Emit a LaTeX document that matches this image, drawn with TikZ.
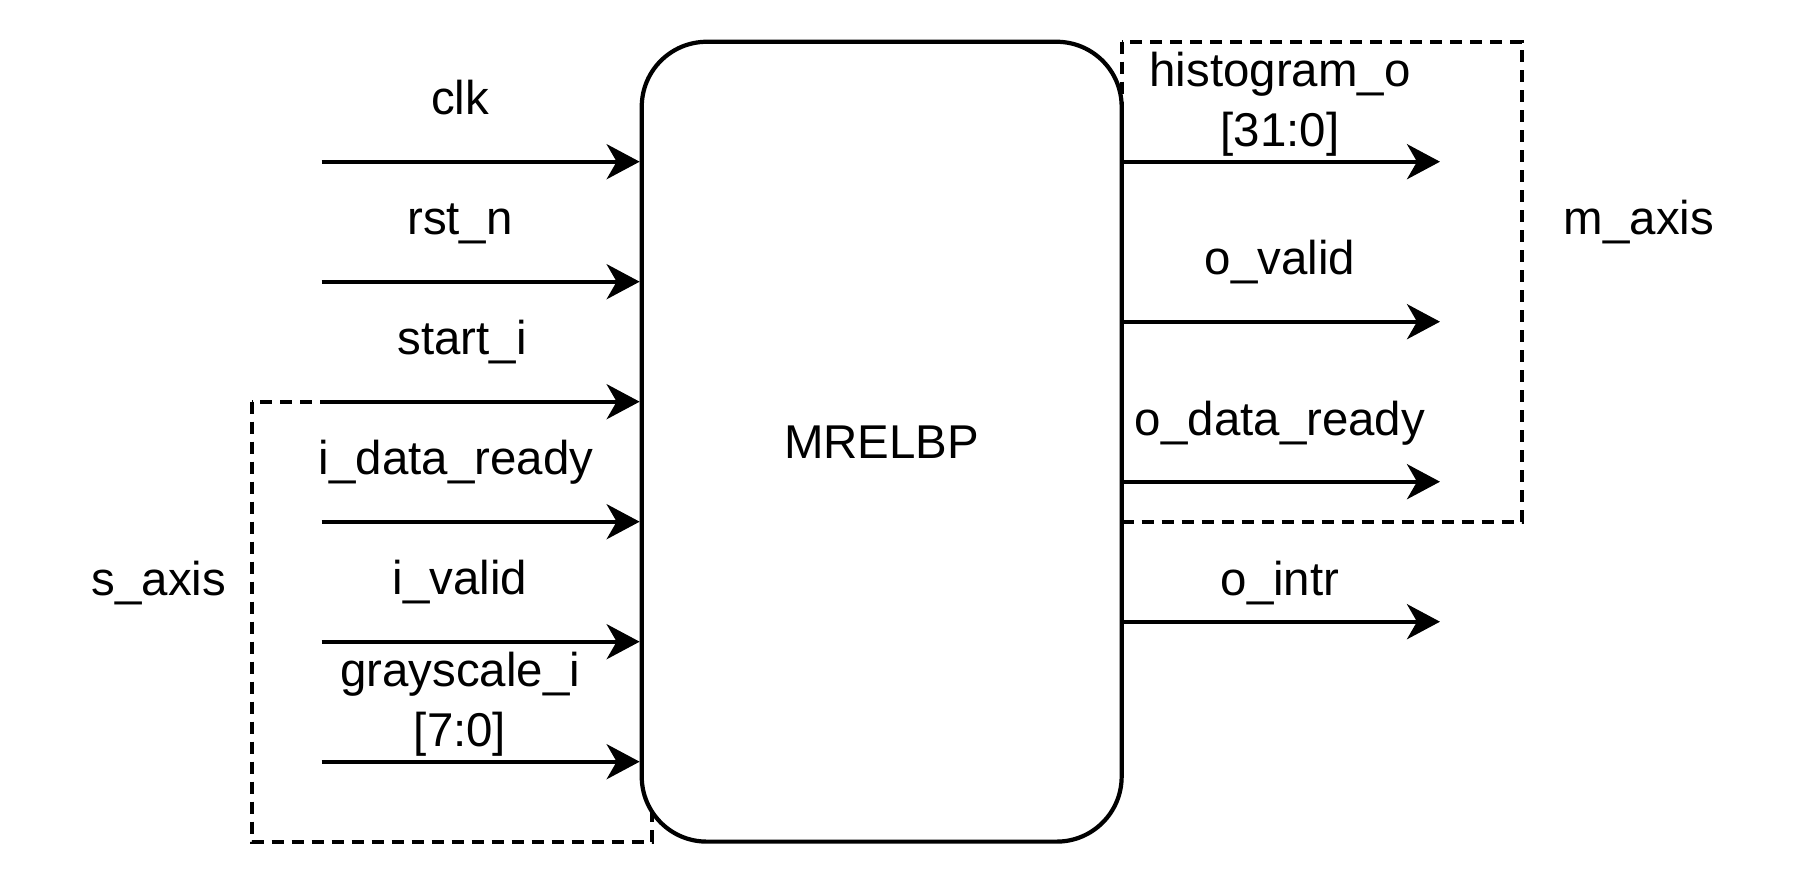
\documentclass[tikz,border=0pt]{standalone}
\usepackage{fontspec}
\setmainfont{Liberation Sans}
\usetikzlibrary{arrows.meta}
\tikzset{
  core/.style={draw,fill=white,line width=2.4pt,rounded corners=1.3cm,minimum width=9.6cm,minimum height=16cm,
               inner sep=0pt},
  sig/.style={-{Stealth[length=0.66cm,width=0.7cm,inset=0.2cm]},line width=2.3pt},
  grp/.style={draw,line width=2.3pt,dash pattern=on 0.24cm off 0.16cm},
  sname/.style={anchor=base,inner sep=0pt,align=center},
}

\begin{document}
\begin{tikzpicture}[x=0.02cm,y=-0.02cm,font=\fontsize{27}{34}\selectfont]
  \useasboundingbox (0,0) rectangle (1804,888);
  % interface groups
  \draw[grp] (251.7,401.7) rectangle (651.7,841.7);
  \draw[grp] (1121.7,41.7) rectangle (1521.7,521.7);
  \node[sname] (saxis) at (159,595) {s\_axis};
  \node[sname] (maxis) at (1639,235) {m\_axis};

  \node[core] (mrelbp) at (881.7,441.7) {MRELBP};

  % inputs
  \coordinate (clk)   at (321.7,161.7);
  \coordinate (rst)   at (321.7,281.7);
  \coordinate (start) at (321.7,401.7);
  \coordinate (irdy)  at (321.7,521.7);
  \coordinate (ivld)  at (321.7,641.7);
  \coordinate (gray)  at (321.7,761.7);
  \draw[sig] (clk) -- (clk -| mrelbp.west);
  \draw[sig] (rst) -- (rst -| mrelbp.west);
  \draw[sig] (start) -- (start -| mrelbp.west);
  \draw[sig] (irdy) -- (irdy -| mrelbp.west);
  \draw[sig] (ivld) -- (ivld -| mrelbp.west);
  \draw[sig] (gray) -- (gray -| mrelbp.west);
  \node[sname] (lclk)   at (460,114.7) {clk};
  \node[sname] (lrst)   at (460,234.7) {rst\_n};
  \node[sname] (lstart) at (462,354.7) {start\_i};
  \node[sname] (lirdy)  at (456,474.7) {i\_data\_ready};
  \node[sname] (livld)  at (460,594.7) {i\_valid};
  \node[sname] (lgray)  at (460,746.7) {grayscale\_i\\{}[7:0]};

  % outputs
  \coordinate (hist) at (1440,161.7);
  \coordinate (ovld) at (1440,321.7);
  \coordinate (ordy) at (1440,481.7);
  \coordinate (intr) at (1440,621.7);
  \draw[sig] (hist -| mrelbp.east) -- (hist);
  \draw[sig] (ovld -| mrelbp.east) -- (ovld);
  \draw[sig] (ordy -| mrelbp.east) -- (ordy);
  \draw[sig] (intr -| mrelbp.east) -- (intr);
  \node[sname] (lhist) at (1280,146.7) {histogram\_o\\{}[31:0]};
  \node[sname] (lovld) at (1280,275)  {o\_valid};
  \node[sname] (lordy) at (1280,435)  {o\_data\_ready};
  \node[sname] (lintr) at (1280,595)  {o\_intr};
\end{tikzpicture}
\end{document}
